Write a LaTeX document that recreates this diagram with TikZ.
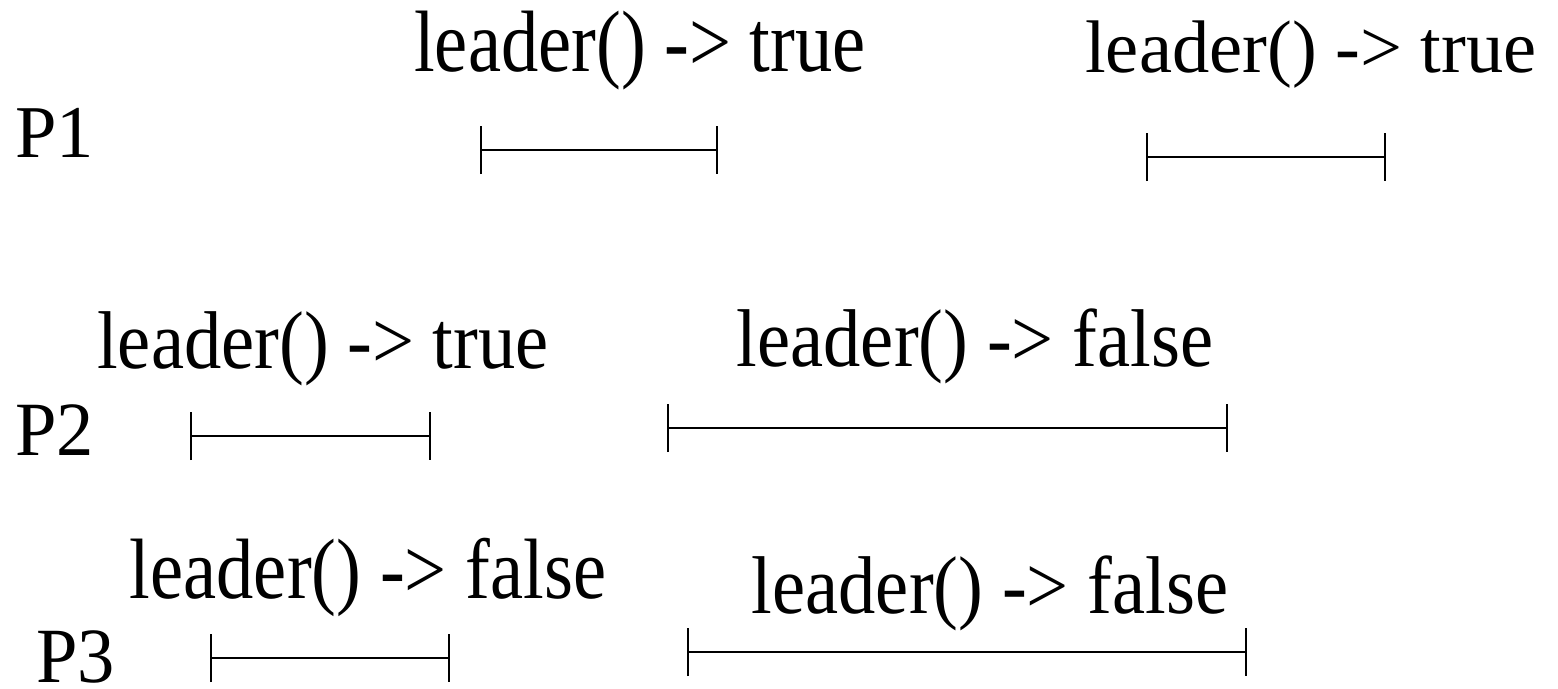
\documentclass[tikz,border=0pt]{standalone}
\usepackage{fontspec}
\setmainfont{Liberation Serif}
\usetikzlibrary{arrows.meta}

% estica o texto na vertical
\newcommand{\esticado}[2]{\scalebox{1}[#1]{#2}}

\begin{document}
\begin{tikzpicture}[x=1pt, y=-1pt, thick,
			lbl/.style={font=\fontsize{74.5}{80}\selectfont, anchor=base, inner sep=0pt},
			proc/.style={lbl, anchor=base west, text depth=0pt},
			span/.style={{Bar[width=48pt]}-{Bar[width=48pt]}, line width=2pt}]
			\useasboundingbox (0,0) rectangle (1558,688);
			
			%Processos:
			\node[proc] (P1) at (15,157) {P1};
			\node[proc] (P2) at (15,455) {\esticado{1.03}{P2}};
			\node[proc] (P3) at (36,682) {\esticado{1.05}{P3}};
			
			%Chamadas: (inicio) -- (fim)
			\coordinate (s11) at (480,150);  \coordinate (e11) at (718,150);
			\coordinate (s12) at (1146,157); \coordinate (e12) at (1386,157);
			\coordinate (s21) at (190,436);  \coordinate (e21) at (431,436);
			\coordinate (s22) at (667,428);  \coordinate (e22) at (1228,428);
			\coordinate (s31) at (210,658);  \coordinate (e31) at (450,658);
			\coordinate (s32) at (687,652);  \coordinate (e32) at (1247,652);
			
			\draw[span] (s11) -- (e11);
			\draw[span] (s12) -- (e12);
			\draw[span] (s21) -- (e21);
			\draw[span] (s22) -- (e22);
			\draw[span] (s31) -- (e31);
			\draw[span] (s32) -- (e32);
			
			%Respostas:
			\node[lbl] (L11) at (640,71)   {\esticado{1.17}{leader() -> true}};
			\node[lbl] (L12) at (1311,72)  {leader() -> true};
			\node[lbl] (L21) at (323,368)  {\esticado{1.1}{leader() -> true}};
			\node[lbl] (L22) at (975,366)  {\esticado{1.1}{leader() -> false}};
			\node[lbl] (L31) at (368,598)  {\esticado{1.15}{leader() -> false}};
			\node[lbl] (L32) at (990,613)  {\esticado{1.1}{leader() -> false}};
		\end{tikzpicture}
\end{document}
